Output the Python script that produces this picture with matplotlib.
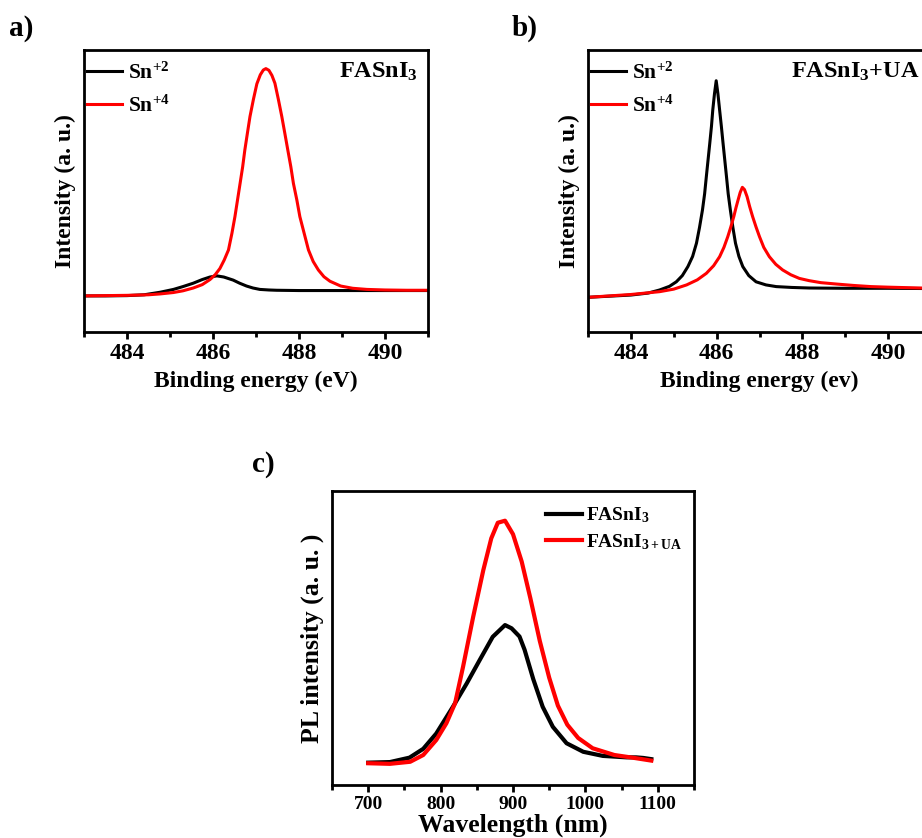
import matplotlib
matplotlib.use("Agg")
import matplotlib.pyplot as plt
from matplotlib.ticker import MultipleLocator

plt.rcParams['font.family'] = ['Liberation Serif', 'DejaVu Serif']
plt.rcParams['font.weight'] = 'bold'
plt.rcParams['mathtext.fontset'] = 'custom'
plt.rcParams['mathtext.rm'] = 'Liberation Serif:bold'
plt.rcParams['mathtext.bf'] = 'Liberation Serif:bold'
plt.rcParams['mathtext.it'] = 'Liberation Serif:bold'

# ---------------- data (normalised intensity) ----------------
# panel a: FASnI3
a_sn2_x = [483.0, 483.5, 484.0, 484.4, 484.77, 485.08, 485.3, 485.54, 485.75, 485.93,
           486.09, 486.25, 486.47, 486.62, 486.78, 486.93, 487.09, 487.3, 487.48,
           488.0, 489.0, 490.0, 491.0]
a_sn2_y = [0.128, 0.128, 0.129, 0.132, 0.141, 0.151, 0.161, 0.173, 0.186, 0.195,
           0.199, 0.195, 0.184, 0.173, 0.163, 0.156, 0.151, 0.149, 0.148,
           0.147, 0.147, 0.147, 0.147]
a_sn4_x = [483.0, 483.5, 484.0, 484.5, 484.77, 485.08, 485.3, 485.54, 485.75, 485.93,
           486.05, 486.16, 486.26, 486.36, 486.44, 486.51, 486.57, 486.63, 486.69,
           486.74, 486.80, 486.86, 486.94, 487.02, 487.10, 487.17, 487.23, 487.30,
           487.37, 487.44, 487.52, 487.60, 487.67, 487.74, 487.81, 487.87, 487.95,
           488.02, 488.12, 488.22, 488.33, 488.45, 488.58, 488.72, 488.97, 489.25,
           489.58, 490.0, 490.5, 491.0]
a_sn4_y = [0.128, 0.129, 0.130, 0.132, 0.135, 0.140, 0.146, 0.156, 0.168, 0.186,
           0.203, 0.225, 0.255, 0.291, 0.350, 0.409, 0.468, 0.527, 0.586,
           0.645, 0.705, 0.764, 0.825, 0.880, 0.912, 0.929, 0.934, 0.928,
           0.910, 0.882, 0.825, 0.764, 0.705, 0.645, 0.586, 0.527, 0.468,
           0.409, 0.350, 0.291, 0.250, 0.220, 0.196, 0.180, 0.163, 0.155,
           0.151, 0.149, 0.148, 0.148]

# panel b: FASnI3 + UA
b_sn2_x = [483.0, 483.5, 484.0, 484.4, 484.67, 484.9, 485.06, 485.2, 485.33, 485.44,
           485.53, 485.60, 485.67, 485.72, 485.76, 485.80, 485.84, 485.88, 485.91,
           485.95, 485.99, 486.03, 486.07, 486.11, 486.15, 486.19, 486.23, 486.27,
           486.32, 486.38, 486.44, 486.52, 486.61, 486.75, 486.92, 487.15, 487.39,
           487.75, 488.16, 489.0, 490.0, 491.0]
b_sn2_y = [0.123, 0.127, 0.131, 0.138, 0.149, 0.162, 0.178, 0.200, 0.232, 0.268,
           0.315, 0.370, 0.433, 0.490, 0.551, 0.610, 0.669, 0.730, 0.787,
           0.845, 0.891, 0.845, 0.787, 0.730, 0.669, 0.610, 0.551, 0.490,
           0.433, 0.370, 0.315, 0.268, 0.232, 0.200, 0.178, 0.167, 0.161,
           0.158, 0.156, 0.155, 0.155, 0.154]
b_sn4_x = [483.0, 483.5, 484.0, 484.67, 485.0, 485.30, 485.55, 485.76, 485.93, 486.07,
           486.17, 486.26, 486.33, 486.40, 486.45, 486.50, 486.55, 486.60, 486.65,
           486.71, 486.77, 486.84, 486.92, 487.00, 487.10, 487.23, 487.38, 487.54,
           487.73, 487.93, 488.16, 488.43, 488.8, 489.2, 489.6, 490.0, 490.5, 491.0]
b_sn4_y = [0.123, 0.128, 0.133, 0.143, 0.152, 0.167, 0.185, 0.208, 0.235, 0.267,
           0.300, 0.338, 0.372, 0.409, 0.440, 0.468, 0.495, 0.513, 0.505,
           0.480, 0.445, 0.409, 0.372, 0.338, 0.300, 0.267, 0.240, 0.220,
           0.203, 0.190, 0.182, 0.175, 0.170, 0.165, 0.161, 0.159, 0.157, 0.155]

# panel c: PL spectra
pl_fa_x = [700, 730, 757, 776, 794, 817, 836, 854, 872, 889, 898, 909, 916, 928,
           941, 955, 974, 997, 1024, 1057, 1070, 1080, 1091]
pl_fa_y = [0.076, 0.078, 0.093, 0.123, 0.175, 0.266, 0.345, 0.425, 0.504, 0.544,
           0.533, 0.505, 0.460, 0.360, 0.266, 0.198, 0.142, 0.113, 0.099, 0.094,
           0.094, 0.092, 0.088]
pl_ua_x = [700, 730, 758, 776, 794, 808, 820, 831, 845, 859, 870, 879, 889, 900,
           912, 924, 937, 950, 962, 975, 990, 1010, 1040, 1065, 1091]
pl_ua_y = [0.074, 0.072, 0.079, 0.102, 0.153, 0.210, 0.278, 0.402, 0.572, 0.731,
           0.839, 0.892, 0.899, 0.853, 0.760, 0.635, 0.490, 0.365, 0.270, 0.205,
           0.160, 0.125, 0.102, 0.093, 0.083]

fig = plt.figure(figsize=(9.22, 8.38), dpi=100)

ax_a = fig.add_axes([84/922, 1-332/838, 344/922, 282/838])
ax_b = fig.add_axes([588/922, 1-332/838, 343/922, 282/838])
ax_c = fig.add_axes([332/922, 1-785/838, 362/922, 294/838])

def style(ax, lsize):
    for s in ax.spines.values():
        s.set_linewidth(2.0)
    ax.tick_params(axis='x', which='major', direction='out', length=5, width=2,
                   labelsize=lsize, pad=3)
    ax.tick_params(axis='x', which='minor', direction='out', length=3.5, width=2)
    ax.set_yticks([])
    for lab in ax.get_xticklabels():
        lab.set_fontweight('bold')

leg_kw = dict(loc='upper left', frameon=False, fontsize=15.5, handlelength=1.65,
              handletextpad=0.25, borderaxespad=0.0, labelspacing=0.55,
              borderpad=0.0, bbox_to_anchor=(0.008, 0.955))

# panel a
ax_a.plot(a_sn2_x, a_sn2_y, color='black', lw=2.2, label='Sn$^{+2}$')
ax_a.plot(a_sn4_x, a_sn4_y, color='#ff0000', lw=2.2, label='Sn$^{+4}$')
ax_a.set_xlim(483, 491)
ax_a.set_ylim(0, 1)
ax_a.set_xticks([484, 486, 488, 490])
ax_a.xaxis.set_minor_locator(MultipleLocator(1))
style(ax_a, 17)
ax_a.set_xlabel('Binding energy (eV)', fontsize=17, fontweight='bold', labelpad=5)
ax_a.set_ylabel('Intensity (a. u.)', fontsize=17, fontweight='bold', labelpad=6)
ax_a.text(0.971, 0.922, 'FASnI$_3$', transform=ax_a.transAxes, ha='right', va='center',
          fontsize=17.5, fontweight='bold')
ax_a.legend(**leg_kw)

# panel b
ax_b.plot(b_sn2_x, b_sn2_y, color='black', lw=2.2, label='Sn$^{+2}$')
ax_b.plot(b_sn4_x, b_sn4_y, color='#ff0000', lw=2.2, label='Sn$^{+4}$')
ax_b.set_xlim(483, 491)
ax_b.set_ylim(0, 1)
ax_b.set_xticks([484, 486, 488, 490])
ax_b.xaxis.set_minor_locator(MultipleLocator(1))
style(ax_b, 17)
ax_b.set_xlabel('Binding energy (ev)', fontsize=17, fontweight='bold', labelpad=5)
ax_b.set_ylabel('Intensity (a. u.)', fontsize=17, fontweight='bold', labelpad=6)
ax_b.text(0.968, 0.922, 'FASnI$_3$+UA', transform=ax_b.transAxes, ha='right',
          va='center', fontsize=17.5, fontweight='bold')
ax_b.legend(**leg_kw)

# panel c
ax_c.plot(pl_fa_x, pl_fa_y, color='black', lw=3, label='FASnI$_3$')
ax_c.plot(pl_ua_x, pl_ua_y, color='#ff0000', lw=3, label='FASnI$_{\\mathrm{3+UA}}$')
ax_c.set_xlim(650, 1150)
ax_c.set_ylim(0, 1)
ax_c.set_xticks([700, 800, 900, 1000, 1100])
ax_c.xaxis.set_minor_locator(MultipleLocator(50))
style(ax_c, 14)
ax_c.set_xlabel('Wavelength (nm)', fontsize=18.5, fontweight='bold', labelpad=0)
ax_c.set_ylabel('PL intensity (a. u. )', fontsize=18.5, fontweight='bold', labelpad=6)
ax_c.legend(loc='upper right', frameon=False, fontsize=14, handlelength=1.85,
            handletextpad=0.2, borderaxespad=0.2, labelspacing=0.35,
            bbox_to_anchor=(1.0, 0.99))

fig.text(9/922, 1-28/838, 'a)', fontsize=21, fontweight='bold', va='center')
fig.text(512/922, 1-28/838, 'b)', fontsize=21, fontweight='bold', va='center')
fig.text(252/922, 1-464/838, 'c)', fontsize=21, fontweight='bold', va='center')

fig.savefig('out.png', dpi=100)
